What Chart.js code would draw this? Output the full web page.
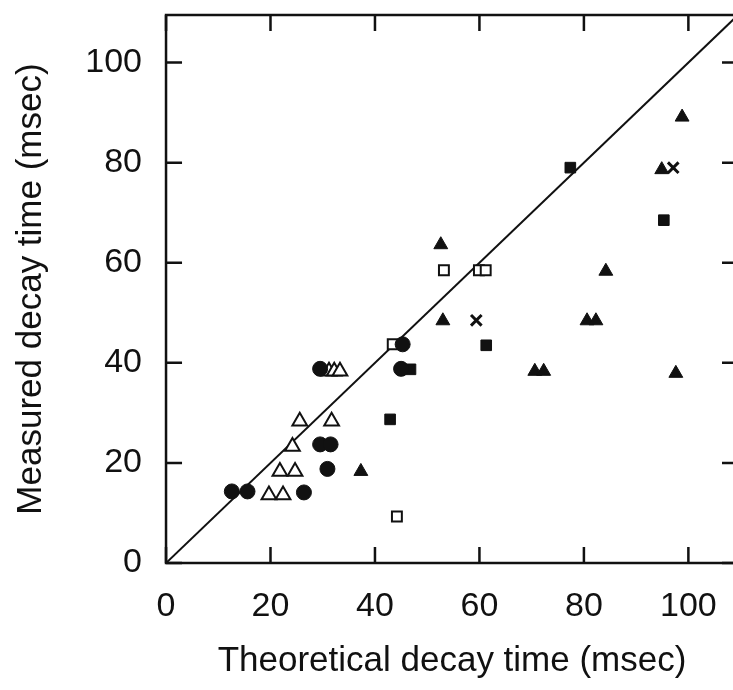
<!DOCTYPE html>
<html>
<head>
<meta charset="utf-8">
<script src="https://cdn.jsdelivr.net/npm/chart.js@4.4.1/dist/chart.umd.min.js"></script>
<style>
  html, body { margin: 0; padding: 0; background: #fff; overflow: hidden; }
  #wrap { width: 740px; height: 690px; }
</style>
</head>
<body>
<div id="wrap"><canvas id="decay-chart" width="740" height="690"></canvas></div>
<script>
// [theoretical, measured] in msec
const filledCircles = [[12.6, 14.3], [15.6, 14.3], [26.4, 14.1], [30.9, 18.8], [29.5, 23.7], [31.5, 23.7], [29.5, 38.8], [45.0, 38.8], [45.3, 43.7]];
const openTriangles = [[19.7, 13.6], [22.4, 13.6], [21.8, 18.3], [24.7, 18.3], [24.2, 23.3], [25.6, 28.3], [31.7, 28.3], [31.2, 38.3], [32.2, 38.3], [33.3, 38.3]];
const filledTriangles = [[37.3, 18.3], [53.0, 48.4], [52.6, 63.6], [70.6, 38.3], [72.3, 38.3], [80.6, 48.4], [82.3, 48.4], [84.2, 58.3], [94.9, 78.6], [97.6, 37.9], [98.8, 89.1]];
const filledSquares = [[42.9, 28.7], [46.8, 38.7], [61.3, 43.5], [77.4, 79.0], [95.3, 68.5]];
const openSquares = [[44.2, 9.3], [43.4, 43.7], [53.2, 58.5], [59.9, 58.5], [61.2, 58.5]];
const crosses = [[59.4, 48.5], [97.1, 79.0]];
const unityLine = [[0, 0], [109.5, 109.5]];
const tickValues = [0, 20, 40, 60, 80, 100];

const ink = '#111';
const fontFamily = '"Liberation Sans", Arial, Helvetica, sans-serif';
const toPts = arr => arr.map(p => ({ x: p[0], y: p[1] }));

// box frame with inward ticks on all four sides
const frameTicks = {
  id: 'frameTicks',
  afterDatasetsDraw(chart) {
    const { ctx, chartArea: a, scales: { x, y } } = chart;
    const len = 16;
    ctx.save();
    ctx.strokeStyle = ink;
    ctx.lineWidth = 2.5;
    ctx.strokeRect(a.left, a.top, a.right - a.left, a.bottom - a.top);
    ctx.beginPath();
    tickValues.forEach(v => {
      const px = x.getPixelForValue(v);
      ctx.moveTo(px, a.bottom); ctx.lineTo(px, a.bottom - len);
      ctx.moveTo(px, a.top); ctx.lineTo(px, a.top + len);
      const py = y.getPixelForValue(v);
      ctx.moveTo(a.left, py); ctx.lineTo(a.left + len, py);
      ctx.moveTo(a.right, py); ctx.lineTo(a.right - len, py);
    });
    ctx.stroke();
    ctx.restore();
  }
};

// invisible chart.js tick marks are only used as the gap between axis and labels
const axisOpts = (title, gap, labelLH, titlePad) => ({
  type: 'linear',
  min: 0,
  max: 109.5,
  grid: { display: true, drawOnChartArea: false, drawTicks: true, tickLength: gap, tickColor: 'rgba(0,0,0,0)', color: 'rgba(0,0,0,0)' },
  border: { display: false },
  ticks: {
    stepSize: 20,
    includeBounds: false,
    padding: 0,
    color: ink,
    font: { family: fontFamily, size: 34, lineHeight: labelLH },
    callback: v => (v % 20 === 0 ? v : '')
  },
  title: {
    display: true,
    text: title,
    color: ink,
    font: { family: fontFamily, size: 35 },
    padding: titlePad
  }
});

const xAxis = axisOpts('Theoretical decay time (msec)', 23.6, 1.2, { top: 12.6, bottom: 8 });
const yAxis = axisOpts('Measured decay time (msec)', 24, 0.8, { top: 10, bottom: 33.3 });

const ctx = document.getElementById('decay-chart');
const decayChart = new Chart(ctx, {
  type: 'scatter',
  data: {
    datasets: [{
      type: 'line',
      data: toPts(unityLine),
      borderColor: ink,
      borderWidth: 2,
      pointRadius: 0,
      order: 10
    }, {
      data: toPts(filledCircles),
      pointStyle: 'circle',
      pointRadius: 7.5,
      backgroundColor: ink,
      borderColor: ink,
      borderWidth: 1
    }, {
      data: toPts(openTriangles),
      pointStyle: 'triangle',
      pointRadius: 8.5,
      backgroundColor: '#fff',
      borderColor: ink,
      borderWidth: 2
    }, {
      data: toPts(filledTriangles),
      pointStyle: 'triangle',
      pointRadius: 8,
      backgroundColor: ink,
      borderColor: ink,
      borderWidth: 1
    }, {
      data: toPts(filledSquares),
      pointStyle: 'rect',
      pointRadius: 7.5,
      backgroundColor: ink,
      borderColor: ink,
      borderWidth: 1
    }, {
      data: toPts(openSquares),
      pointStyle: 'rect',
      pointRadius: 7,
      backgroundColor: '#fff',
      borderColor: ink,
      borderWidth: 2
    }, {
      data: toPts(crosses),
      pointStyle: 'crossRot',
      pointRadius: 7.5,
      borderColor: ink,
      borderWidth: 3
    }]
  },
  options: {
    responsive: false,
    animation: false,
    layout: { autoPadding: false, padding: { top: 15, right: 2, left: 0, bottom: 0 } },
    plugins: {
      legend: { display: false },
      tooltip: { enabled: false }
    },
    scales: { x: xAxis, y: yAxis }
  },
  plugins: [frameTicks]
});
</script>
</body>
</html>
